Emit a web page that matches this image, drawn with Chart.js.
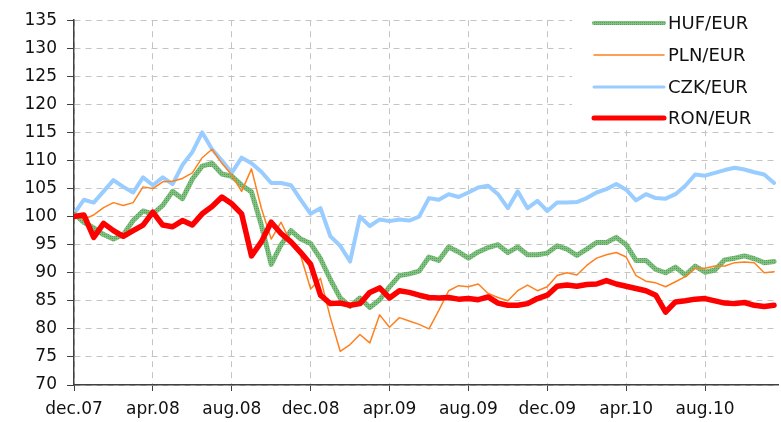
<!DOCTYPE html>
<html>
<head>
<meta charset="utf-8">
<script src="https://cdn.jsdelivr.net/npm/chart.js@4/dist/chart.umd.min.js"></script>
<style>
  body { margin: 0; background: #fff; }
</style>
</head>
<body>
<canvas id="mycanvas" width="781" height="422"></canvas>
<script>
// tick labels every 4 months, data every half month from dec.07
var xLabels = ['dec.07', 'apr.08', 'aug.08', 'dec.08', 'apr.09', 'aug.09', 'dec.09', 'apr.10', 'aug.10'];
var seriesNames = ['HUF/EUR', 'PLN/EUR', 'CZK/EUR', 'RON/EUR'];

var huf = [100.5, 99, 98, 96.8, 96, 96.8, 99.3, 101, 100.5, 102, 104.5, 103.2,
	106.7, 109, 109.5, 107.6, 107.2, 105.6, 104.4, 98.5, 91.5, 95, 97.5, 96,
	95.2, 92.5, 88.8, 85.5, 84, 85.5, 83.8, 85.2, 87.5, 89.5, 89.8, 90.3,
	92.8, 92.2, 94.6, 93.7, 92.6, 93.7, 94.5, 95, 93.6, 94.6, 93.2, 93.2,
	93.5, 94.8, 94.2, 93.1, 94.2, 95.4, 95.4, 96.3, 95, 92.2, 92.2, 90.6,
	90, 91, 89.6, 91.2, 90.1, 90.5, 92.3, 92.6, 93, 92.5, 91.8, 92];
var pln = [100.5, 99.5, 100.3, 101.6, 102.5, 102, 102.5, 105.3, 105, 106.2, 106.3, 106.8,
	107.8, 110.5, 112, 109.5, 107.4, 104.5, 108.5, 101.5, 96, 99, 95.3, 93,
	87.1, 89, 82, 76, 77.2, 79, 77.5, 82.5, 80.3, 82, 81.4, 80.8,
	80, 83.3, 86.8, 87.7, 87.5, 88, 86.3, 85.6, 85, 86.8, 87.8, 86.8,
	87.5, 89.5, 90, 89.6, 91.3, 92.6, 93.2, 93.6, 92.8, 89.5, 88.5, 88.2,
	87.5, 88.4, 89.3, 90.8, 90.8, 91.2, 91.2, 91.8, 91.9, 91.8, 90, 90.2];
var czk = [100.5, 103, 102.5, 104.5, 106.5, 105.3, 104.3, 107, 105.6, 107, 105.8, 109.2,
	111.5, 115, 112, 110, 107.8, 110.5, 109.5, 108, 106, 106, 105.6, 103,
	100.5, 101.5, 96.5, 94.8, 92, 100, 98.3, 99.5, 99.2, 99.5, 99.3, 100,
	103.3, 103, 104, 103.5, 104.3, 105.2, 105.5, 104, 101.5, 104.5, 101.5, 102.8,
	101, 102.5, 102.5, 102.6, 103.3, 104.3, 104.9, 105.8, 104.8, 102.9, 104, 103.3,
	103.2, 104, 105.5, 107.5, 107.3, 107.8, 108.3, 108.7, 108.4, 107.9, 107.5, 106];
var ron = [100, 100.3, 96.3, 98.8, 97.5, 96.5, 97.5, 98.5, 100.8, 98.5, 98.2, 99.3,
	98.5, 100.5, 101.8, 103.5, 102.3, 100.5, 93, 95.5, 99, 97, 95.5, 93.6,
	91.5, 86, 84.5, 84.6, 84.2, 84.5, 86.5, 87.3, 85.5, 86.8, 86.5, 86,
	85.6, 85.5, 85.6, 85.3, 85.4, 85.2, 85.7, 84.6, 84.2, 84.2, 84.5, 85.4,
	86, 87.6, 87.8, 87.6, 87.9, 88, 88.6, 88, 87.6, 87.2, 86.8, 86,
	83, 84.8, 85, 85.3, 85.4, 85, 84.6, 84.5, 84.7, 84.2, 84, 84.2];

var months = [];
for (var i = 0; i < huf.length; i++) months.push(i / 2);

function pts(arr) {
	return arr.map(function(v, i) { return {x: months[i], y: v}; });
}

// dotted green texture for HUF
var pc = document.createElement('canvas');
pc.width = 4; pc.height = 4;
var px = pc.getContext('2d');
px.fillStyle = 'rgb(128,192,128)';
px.fillRect(0, 0, 4, 4);
px.fillStyle = 'rgb(88,160,88)';
px.fillRect(0, 0, 1, 1); px.fillRect(2, 2, 1, 1); px.fillRect(2, 0, 1, 1); px.fillRect(0, 2, 1, 1);
var hufPattern = document.getElementById('mycanvas').getContext('2d').createPattern(pc, 'repeat');

var tickFont = {family: 'DejaVu Sans', size: 17};

var legendBox = {
	id: 'legendBox',
	afterDraw: function(chart) {
		var ctx = chart.ctx;
		ctx.save();
		ctx.fillStyle = '#fff';
		ctx.fillRect(572, 0, 209, 126);
		var rows = [23, 55, 87, 118];
		var widths = [4, 1.5, 3, 5];
		chart.data.datasets.forEach(function(ds, i) {
			ctx.strokeStyle = ds.borderColor;
			ctx.lineWidth = widths[i];
			ctx.lineCap = 'round';
			ctx.beginPath();
			ctx.moveTo(594, rows[i]);
			ctx.lineTo(664, rows[i]);
			ctx.stroke();
			ctx.fillStyle = '#111';
			ctx.font = '18px "DejaVu Sans"';
			ctx.textBaseline = 'middle';
			ctx.fillText(ds.label, 668, rows[i] + 1);
		});
		ctx.restore();
	}
};

var chartdata = {
	datasets: [
		{ label: seriesNames[0], data: pts(huf), borderColor: hufPattern, borderWidth: 5, order: 2 },
		{ label: seriesNames[1], data: pts(pln), borderColor: 'rgb(255,128,30)', borderWidth: 1.5, order: 1 },
		{ label: seriesNames[2], data: pts(czk), borderColor: 'rgb(153,204,255)', borderWidth: 4, order: 3 },
		{ label: seriesNames[3], data: pts(ron), borderColor: 'rgb(255,0,0)', borderWidth: 5.5, order: 0 }
	]
};

var ctx = document.getElementById('mycanvas');
var lineGraph = new Chart(ctx, {
	type: 'line',
	data: chartdata,
	plugins: [legendBox],
	options: {
		responsive: false,
		animation: false,
		layout: { padding: { top: 13, right: 3, left: 0, bottom: 0 } },
		elements: { point: { radius: 0 }, line: { tension: 0, borderJoinStyle: 'round', borderCapStyle: 'round' } },
		plugins: { legend: { display: false }, tooltip: { enabled: false } },
		scales: {
			x: {
				type: 'linear',
				min: 0,
				max: 35.7,
				afterBuildTicks: function(s) {
					s.ticks = s.ticks.filter(function(t) { return t.value % 4 === 0; });
				},
				afterFit: function(s) { s.height = 37; },
				ticks: {
					stepSize: 4,
					autoSkip: false,
					maxRotation: 0,
					padding: 8,
					color: '#111',
					font: tickFont,
					callback: function(v) { return xLabels[v / 4]; }
				},
				grid: { color: '#c4c4c4', tickColor: '#404040', tickLength: 6 },
				border: { color: '#404040', width: 1.5, dash: [6, 5] }
			},
			y: {
				min: 70,
				max: 135,
				afterFit: function(s) { s.width = 74; },
				ticks: { stepSize: 5, padding: 10, color: '#111', font: tickFont },
				grid: { color: '#c4c4c4', tickColor: '#404040', tickLength: 7 },
				border: { color: '#404040', width: 1.5, dash: [6, 5] }
			}
		}
	}
});
</script>
</body>
</html>
